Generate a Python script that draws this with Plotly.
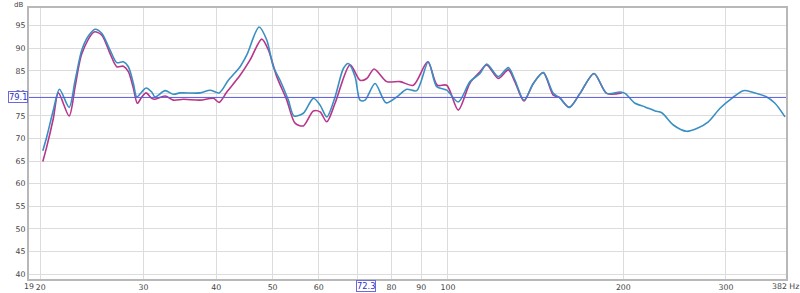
import math
import plotly.graph_objects as go

# Series A (magenta) – frequency (Hz) and level (dB)
freq_a = [20.16, 20.48, 21.02, 21.44, 22.37, 22.91, 23.52, 24.69, 25.45, 26.30, 27.01, 27.72,
          28.27, 28.84, 29.30, 29.81, 30.32, 31.01, 31.42, 32.69, 33.78, 35.14, 37.54, 39.57,
          40.47, 41.72, 43.97, 45.74, 47.90, 49.17, 50.83, 52.88, 54.64, 56.46, 58.74, 60.32,
          61.94, 64.00, 67.91, 70.65, 72.54, 74.67, 78.51, 82.74, 87.20, 92.30, 95.87, 99.50,
          104.16, 109.09, 113.51, 116.55, 122.02, 126.94, 130.34, 135.06, 140.11, 145.76,
          151.63, 155.27, 161.54, 168.53, 178.11, 187.27, 198.74]
db_a = [64.9, 68.2, 74.5, 80.1, 75.0, 81.5, 88.8, 93.6, 92.9, 88.8, 85.9, 86.0,
        84.8, 81.1, 77.8, 79.2, 80.1, 78.9, 78.7, 79.4, 78.5, 78.7, 78.5, 78.9,
        78.0, 80.3, 84.0, 87.4, 92.0, 89.6, 83.7, 78.5, 73.4, 72.8, 76.1, 75.9,
        73.7, 77.8, 86.3, 82.9, 83.3, 85.4, 82.6, 82.6, 81.8, 87.0, 81.8, 81.8,
        76.3, 82.3, 84.8, 86.3, 83.3, 85.2, 82.5, 78.3, 82.2, 84.6,
        79.6, 79.1, 76.9, 80.0, 84.4, 80.0, 80.1]

# Series B (blue)
freq_b = [20.16, 20.48, 21.02, 21.53, 22.37, 22.91, 23.52, 24.14, 24.79, 25.45, 26.30, 27.01,
          27.72, 28.27, 28.84, 29.23, 29.81, 30.32, 31.01, 31.42, 32.69, 33.78, 34.68, 37.54,
          39.06, 40.47, 41.98, 43.97, 45.15, 47.39, 48.86, 50.15, 51.50, 53.21, 54.42, 56.46,
          58.74, 60.32, 61.94, 64.00, 66.14, 67.46, 69.27, 70.65, 72.06, 74.96, 78.29, 81.66,
          84.95, 88.38, 92.52, 95.64, 99.50, 104.16, 109.09, 113.51, 116.55, 122.02, 126.94,
          130.34, 135.06, 140.11, 145.76, 151.63, 155.27, 161.54, 168.53, 178.11, 187.27,
          197.41, 201.35, 209.46, 217.93, 226.74, 232.8, 243.7, 256.9, 267.3, 279.8, 293.1,
          307.0, 321.4, 334.3, 352.5, 364.2, 378.9]
db_b = [67.3, 70.4, 76.3, 80.9, 76.9, 82.9, 89.6, 92.7, 94.2, 93.3, 89.6, 86.8,
        87.0, 85.9, 82.2, 79.2, 80.3, 81.2, 80.3, 79.2, 80.6, 79.8, 80.1, 80.1,
        80.7, 80.1, 82.9, 85.9, 88.5, 94.7, 91.8, 85.9, 82.9, 78.5, 75.0, 75.6,
        78.9, 77.4, 74.8, 79.2, 85.5, 86.6, 83.7, 78.5, 78.5, 82.2, 77.9, 79.2,
        80.9, 80.6, 87.0, 81.5, 80.7, 78.1, 82.6, 84.4, 86.5, 83.7, 85.7,
        82.9, 78.5, 82.2, 84.6, 80.0, 79.1, 76.9, 80.0, 84.4, 80.0,
        80.3, 80.0, 77.8, 77.0, 76.1, 75.7, 73.0, 71.6, 72.2, 73.7, 76.7,
        78.9, 80.6, 80.2, 79.2, 77.8, 74.8]

x_range_hz = [19.09, 380.4]
x_tick_vals = [20, 30, 40, 50, 60, 70, 80, 90, 100, 200, 300]
x_tick_text = ["20", "30", "40", "50", "60", "", "80", "90", "100", "200", "300"]
x_edge_labels = ["19", "382 Hz"]
y_tick_vals = [40, 45, 50, 55, 60, 65, 70, 75, 80, 85, 90, 95]

cursor_freq = 72.3
cursor_db = 79.1

COL_A = "#b8358a"
COL_B = "#3a8fc2"
CURSOR = "#5a5ae0"
FONT = "DejaVu Sans"
FS = 7.8
TXT = "#444"

fig = go.Figure()
fig.add_trace(go.Scatter(x=freq_a, y=db_a, mode="lines", line=dict(color=COL_A, width=1.6, shape="spline", smoothing=0.8),
                         hoverinfo="skip", showlegend=False))
fig.add_trace(go.Scatter(x=freq_b, y=db_b, mode="lines", line=dict(color=COL_B, width=1.6, shape="spline", smoothing=0.8),
                         hoverinfo="skip", showlegend=False))

fig.add_shape(type="line", xref="paper", x0=0, x1=1, yref="y", y0=cursor_db, y1=cursor_db,
              line=dict(color=CURSOR, width=1))
fig.add_shape(type="line", xref="x", x0=math.log10(cursor_freq), x1=math.log10(cursor_freq),
              yref="paper", y0=0, y1=1.0, line=dict(color=CURSOR, width=1))

fig.add_annotation(xref="paper", x=0, xanchor="right", yref="y", y=cursor_db, yanchor="middle",
                   text=f"{cursor_db}", showarrow=False, font=dict(family=FONT, size=FS + 0.5, color="#3030c8"),
                   bgcolor="white", bordercolor="#6a6ae0", borderwidth=1, borderpad=0, xshift=-1)
fig.add_annotation(xref="x", x=math.log10(cursor_freq), xanchor="center", yref="paper", y=0, yanchor="top",
                   text=f"{cursor_freq}", showarrow=False, font=dict(family=FONT, size=FS + 0.5, color="#3030c8"),
                   bgcolor="white", bordercolor="#6a6ae0", borderwidth=1, borderpad=0, yshift=-1)
fig.add_annotation(xref="paper", x=0, xanchor="right", yref="paper", y=1, yanchor="bottom",
                   text="dB", showarrow=False, font=dict(family=FONT, size=7, color=TXT),
                   xshift=-4, yshift=-3)
fig.add_annotation(xref="paper", x=0, xanchor="center", yref="paper", y=0, yanchor="top",
                   text=x_edge_labels[0], showarrow=False, font=dict(family=FONT, size=FS, color=TXT),
                   xshift=0, yshift=-1)
fig.add_annotation(xref="paper", x=1, xanchor="center", yref="paper", y=0, yanchor="top",
                   text=x_edge_labels[1], showarrow=False, font=dict(family=FONT, size=FS, color=TXT),
                   xshift=-1, yshift=-1)

fig.update_layout(
    width=800, height=293,
    margin=dict(l=29, r=14, t=8, b=14, autoexpand=False),
    paper_bgcolor="white", plot_bgcolor="white",
    font=dict(family=FONT, size=FS, color=TXT),
    xaxis=dict(type="log", range=[math.log10(x_range_hz[0]), math.log10(x_range_hz[1])],
               tickvals=x_tick_vals, ticktext=x_tick_text, tickangle=0, automargin=False,
               showgrid=True, gridcolor="#dcdcdc", gridwidth=1, zeroline=False,
               showline=True, linecolor="#b8b8b8", linewidth=2, mirror=True, ticks="", ticklen=0,
               tickfont=dict(family=FONT, size=FS, color=TXT)),
    yaxis=dict(range=[38.9, 98.9], tickvals=y_tick_vals, showgrid=True, gridcolor="#dcdcdc", gridwidth=1,
               automargin=False, zeroline=False, showline=True, linecolor="#b8b8b8", linewidth=2,
               mirror=True, ticks="", tickfont=dict(family=FONT, size=FS, color=TXT)),
)

fig.write_html("out.html")
